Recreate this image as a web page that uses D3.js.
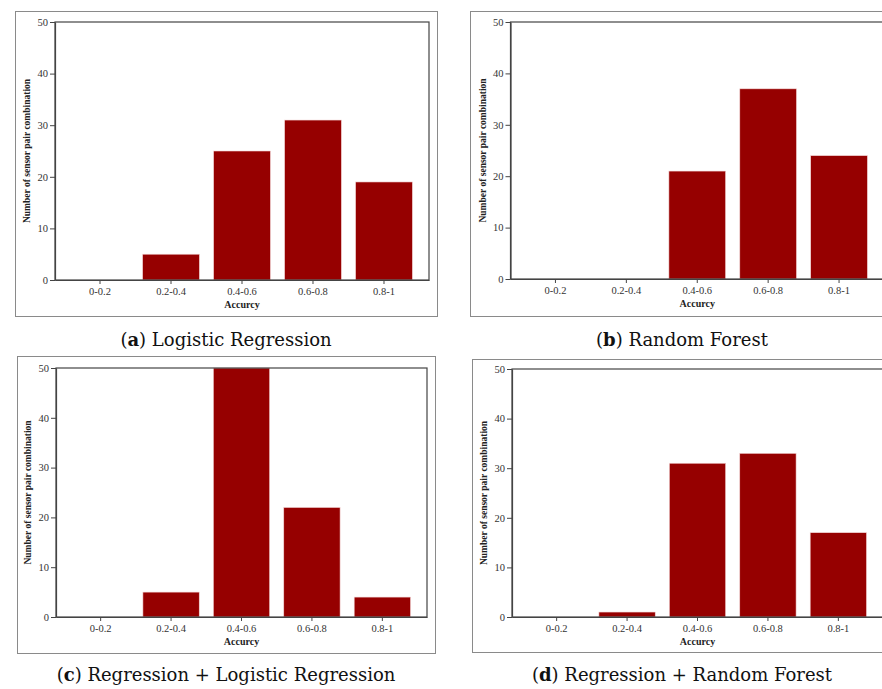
<!DOCTYPE html>
<html>
<head>
<meta charset="utf-8">
<script src="https://cdn.jsdelivr.net/npm/d3@7"></script>
<style>
  body { margin: 0; background: #fff; overflow: hidden; }
  svg { display: block; }
  .tick text { font-family: "Liberation Serif", serif; fill: #333; }
</style>
</head>
<body>
<script>
var width = 882;
var height = 689;

// data
var categories = ['0-0.2', '0.2-0.4', '0.4-0.6', '0.6-0.8', '0.8-1'];
var logisticRegression = [0, 5, 25, 31, 19];
var randomForest = [0, 0, 21, 37, 24];
var regLogistic = [0, 5, 50, 22, 4];
var regForest = [0, 1, 31, 33, 17];
var yTicks = [0, 10, 20, 30, 40, 50];
var captionKeys = ['a', 'b', 'c', 'd'];
var captionTexts = ['Logistic Regression', 'Random Forest',
                    'Regression + Logistic Regression', 'Regression + Random Forest'];
var series = [logisticRegression, randomForest, regLogistic, regForest];

// layout of each panel (frame box, plot box, caption position)
var panels = [
  { frame: [15, 11, 422, 305], plot: [55, 22, 429, 280], cap: [226, 346] },
  { frame: [470, 11, 422, 305], plot: [510.5, 22, 884, 279], cap: [682, 346] },
  { frame: [17, 356, 418, 297], plot: [56, 368, 427, 617], cap: [226, 681] },
  { frame: [472, 359, 420, 293], plot: [512, 369, 883, 617], cap: [682, 681] }
];

var svg = d3.select('body').append('svg')
  .attr('width', width)
  .attr('height', height);

panels.forEach(function(p, i) {
  var values = series[i];
  var g = svg.append('g');

  g.append('rect')
   .attr('x', p.frame[0] + 0.5).attr('y', p.frame[1] + 0.5)
   .attr('width', p.frame[2]).attr('height', p.frame[3])
   .attr('fill', 'none').attr('stroke', '#8a8a8a').attr('stroke-width', 1);

  var l = p.plot[0], t = p.plot[1], r = p.plot[2], b = p.plot[3];

  var x = d3.scaleBand()
    .domain(categories)
    .range([l, r])
    .paddingInner(0.2)
    .paddingOuter(0.234);

  var y = d3.scaleLinear()
    .domain([0, 50])
    .range([b, t]);

  g.selectAll('rect.bar')
   .data(values)
   .enter().append('rect')
   .attr('class', 'bar')
   .attr('x', function(d, j) { return x(categories[j]); })
   .attr('y', function(d) { return y(d); })
   .attr('width', x.bandwidth())
   .attr('height', function(d) { return b - y(d); })
   .attr('fill', '#960000')
   .attr('stroke', '#f4d8d8')
   .attr('stroke-width', 0.6);

  // plot box top/right
  g.append('rect')
   .attr('x', l).attr('y', t)
   .attr('width', r - l).attr('height', b - t)
   .attr('fill', 'none').attr('stroke', '#444').attr('stroke-width', 1.2);

  var xAxis = g.append('g')
    .attr('transform', 'translate(0,' + b + ')')
    .call(d3.axisBottom(x).tickSize(4).tickPadding(4).tickSizeOuter(0));
  var yAxis = g.append('g')
    .attr('transform', 'translate(' + l + ',0)')
    .call(d3.axisLeft(y).tickValues(yTicks).tickSize(5).tickPadding(2).tickSizeOuter(0));

  [xAxis, yAxis].forEach(function(a) {
    a.select('.domain').attr('stroke', '#444').attr('stroke-width', 1.2);
    a.selectAll('.tick line').attr('stroke', '#444');
    a.selectAll('.tick text').attr('font-size', 10.5);
  });

  g.append('text')
   .attr('x', x(categories[2]) + x.bandwidth() / 2)
   .attr('y', b + 28)
   .attr('text-anchor', 'middle')
   .attr('font-family', 'Liberation Serif, serif')
   .attr('font-weight', 'bold')
   .attr('font-size', 10)
   .attr('fill', '#222')
   .text('Accurcy');

  g.append('text')
   .attr('transform', 'translate(' + (l - 25) + ',' + ((t + b) / 2) + ') rotate(-90)')
   .attr('text-anchor', 'middle')
   .attr('font-family', 'Liberation Serif, serif')
   .attr('font-weight', 'bold')
   .attr('font-size', 9.5)
   .attr('fill', '#222')
   .text('Number of sensor pair combination');

  var cap = g.append('text')
   .attr('x', p.cap[0]).attr('y', p.cap[1])
   .attr('text-anchor', 'middle')
   .attr('font-family', 'DejaVu Serif, serif')
   .attr('font-size', 18)
   .attr('fill', '#111');
  cap.append('tspan').text('(');
  cap.append('tspan').attr('font-weight', 'bold').text(captionKeys[i]);
  cap.append('tspan').text(') ' + captionTexts[i]);
});
</script>
</body>
</html>
